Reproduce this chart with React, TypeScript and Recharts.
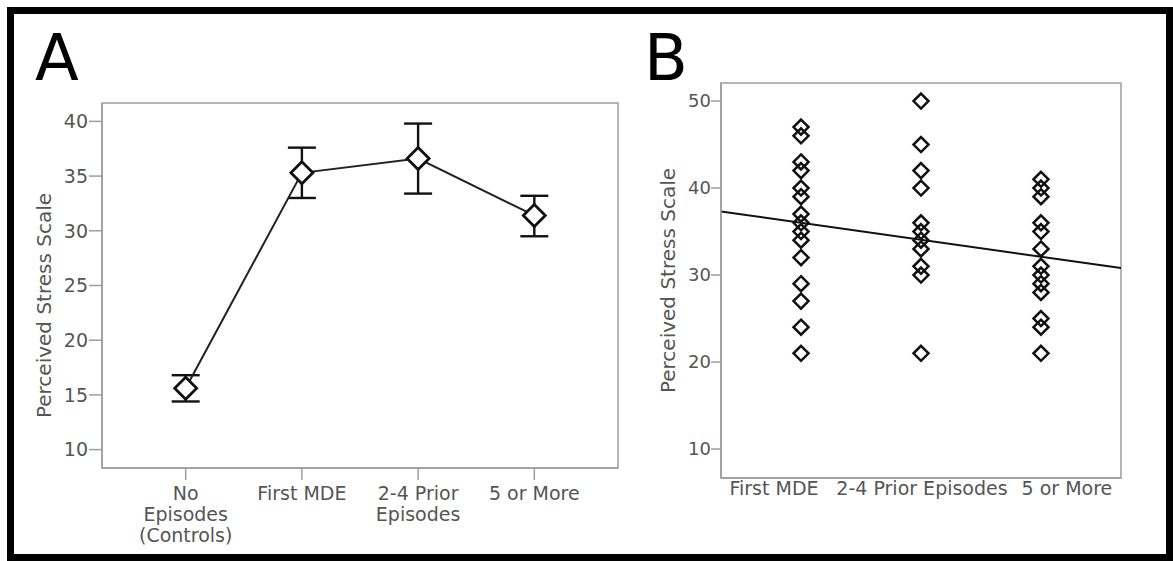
import React from 'react';
import {
  ComposedChart,
  Line,
  Scatter,
  ErrorBar,
  XAxis,
  YAxis,
  ReferenceArea,
} from 'recharts';

// Panel A: group means with error bars
const groupLabelsA = [
  ['No', 'Episodes', '(Controls)'],
  ['First MDE'],
  ['2-4 Prior', 'Episodes'],
  ['5 or More'],
];
const meansA = [15.6, 35.3, 36.6, 31.4];
const lowerA = [14.4, 33.0, 33.4, 29.5];
const upperA = [16.8, 37.6, 39.8, 33.2];
const yTicksA = [10, 15, 20, 25, 30, 35, 40];

// Panel B: individual scores per group + fit line
const groupLabelsB = ['First MDE', '2-4 Prior Episodes', '5 or More'];
const firstMde = [47, 46, 43, 42, 40, 39, 37, 36, 35, 34, 32, 29, 27, 24, 21];
const prior24 = [50, 45, 42, 40, 36, 35, 34, 33, 31, 30, 21];
const fiveOrMore = [41, 40, 39, 36, 35, 33, 31, 30, 29, 28, 25, 24, 21];
const fitX = [0.333, 3.667];
const fitY = [37.3, 30.8];
const yTicksB = [10, 20, 30, 40, 50];

const FONT = 'DejaVu Sans';
const GREY_TEXT = '#555';
const GREY_LINE = '#9d9d9d';

const dataA = meansA.map((m, i) => ({
  x: i + 1,
  mean: m,
  err: [m - lowerA[i], upperA[i] - m],
}));

const dataB = [firstMde, prior24, fiveOrMore].flatMap((vals, g) =>
  vals.map((v) => ({ x: g + 1, y: v }))
);
const fitData = fitX.map((x, i) => ({ x, y: fitY[i] }));

const X_DOMAIN_A: [number, number] = [0.28, 4.72];
const Y_DOMAIN_A: [number, number] = [8.32, 41.68];
const X_DOMAIN_B: [number, number] = [0.333, 3.667];
const Y_DOMAIN_B: [number, number] = [6.67, 52.07];

// labels in B are spread wider than the points (SPSS layout)
const labelShiftB = [-27, 1, 26];

const axisTitle = (dx: number, dy: number, size: number) => (props: any) => {
  const vb = props.viewBox || {};
  const cx = vb.x + dx;
  const cy = vb.y + vb.height / 2 + dy;
  return (
    <text
      x={cx}
      y={cy}
      transform={`rotate(-90 ${cx} ${cy})`}
      textAnchor="middle"
      dominantBaseline="central"
      fill={GREY_TEXT}
      fontSize={size}
      fontFamily={FONT}
    >
      Perceived Stress Scale
    </text>
  );
};

const BigDiamond = (props: any) => {
  const { cx, cy } = props;
  const r = 11;
  return (
    <path
      d={`M${cx},${cy - r} L${cx + r},${cy} L${cx},${cy + r} L${cx - r},${cy} Z`}
      fill="#fff"
      stroke="#111"
      strokeWidth={2.8}
    />
  );
};

const SmallDiamond = (props: any) => {
  const { cx, cy } = props;
  const r = 7.5;
  return (
    <path
      d={`M${cx},${cy - r} L${cx + r},${cy} L${cx},${cy + r} L${cx - r},${cy} Z`}
      fill="none"
      stroke="#111"
      strokeWidth={2.5}
    />
  );
};

const TickA = (props: any) => {
  const { x, y, payload } = props;
  const lines = groupLabelsA[payload.value - 1] || [];
  return (
    <text x={x} y={y} textAnchor="middle" fill={GREY_TEXT} fontSize={19} fontFamily={FONT}>
      {lines.map((l, i) => (
        <tspan key={i} x={x} dy={i === 0 ? 17.5 : 21}>
          {l}
        </tspan>
      ))}
    </text>
  );
};

const TickB = (props: any) => {
  const { x, y, payload } = props;
  const i = payload.value - 1;
  return (
    <text
      x={x + (labelShiftB[i] || 0)}
      y={y + 15}
      textAnchor="middle"
      fill={GREY_TEXT}
      fontSize={19}
      fontFamily={FONT}
    >
      {groupLabelsB[i]}
    </text>
  );
};

const PanelA = () => (
  <ComposedChart width={620} height={561} data={dataA} margin={{ top: 103, right: 2, bottom: 33, left: 42 }}>
    <ReferenceArea
      x1={X_DOMAIN_A[0]}
      x2={X_DOMAIN_A[1]}
      y1={Y_DOMAIN_A[0]}
      y2={Y_DOMAIN_A[1]}
      fill="none"
      stroke={GREY_LINE}
      strokeWidth={1.5}
      ifOverflow="visible"
    />
    <XAxis
      dataKey="x"
      type="number"
      domain={X_DOMAIN_A}
      ticks={[1, 2, 3, 4]}
      allowDataOverflow
      height={60}
      tickSize={12}
      tickMargin={2}
      tick={<TickA />}
      axisLine={{ stroke: GREY_LINE, strokeWidth: 1.5 }}
      tickLine={{ stroke: GREY_LINE, strokeWidth: 1.5 }}
    />
    <YAxis
      type="number"
      domain={Y_DOMAIN_A}
      ticks={yTicksA}
      allowDataOverflow
      width={60}
      tickSize={13}
      tickMargin={1}
      tick={{ fill: GREY_TEXT, fontSize: 19, fontFamily: FONT }}
      axisLine={{ stroke: GREY_LINE, strokeWidth: 1.5 }}
      tickLine={{ stroke: GREY_LINE, strokeWidth: 1.5 }}
      label={axisTitle(2, 20, 20)}
    />
    <Scatter dataKey="mean" shape={<BigDiamond />} isAnimationActive={false}>
      <ErrorBar dataKey="err" direction="y" width={14} stroke="#111" strokeWidth={2.4} />
    </Scatter>
    <Line
      dataKey="mean"
      type="linear"
      stroke="#222"
      strokeWidth={2}
      dot={false}
      activeDot={false}
      isAnimationActive={false}
    />
  </ComposedChart>
);

const PanelB = () => (
  <ComposedChart width={553} height={561} margin={{ top: 83, right: 52, bottom: 43, left: 41 }}>
    <ReferenceArea
      x1={X_DOMAIN_B[0]}
      x2={X_DOMAIN_B[1]}
      y1={Y_DOMAIN_B[0]}
      y2={Y_DOMAIN_B[1]}
      fill="none"
      stroke={GREY_LINE}
      strokeWidth={1.5}
      ifOverflow="visible"
    />
    <XAxis
      dataKey="x"
      type="number"
      domain={X_DOMAIN_B}
      ticks={[1, 2, 3]}
      allowDataOverflow
      height={40}
      tickSize={0}
      tickMargin={2}
      tick={<TickB />}
      axisLine={{ stroke: GREY_LINE, strokeWidth: 1.5 }}
      tickLine={false}
    />
    <YAxis
      dataKey="y"
      type="number"
      domain={Y_DOMAIN_B}
      ticks={yTicksB}
      allowDataOverflow
      width={60}
      tickSize={10}
      tickMargin={0}
      tick={{ fill: GREY_TEXT, fontSize: 18, fontFamily: FONT }}
      axisLine={{ stroke: GREY_LINE, strokeWidth: 1.5 }}
      tickLine={{ stroke: GREY_LINE, strokeWidth: 1.5 }}
      label={axisTitle(7, 0, 20)}
    />
    <Scatter data={dataB} dataKey="y" shape={<SmallDiamond />} isAnimationActive={false} />
    <Line
      data={fitData}
      dataKey="y"
      type="linear"
      stroke="#111"
      strokeWidth={2}
      dot={false}
      activeDot={false}
      isAnimationActive={false}
    />
  </ComposedChart>
);

const letterStyle: React.CSSProperties = {
  position: 'absolute',
  top: 26,
  fontFamily: FONT,
  fontSize: 64,
  lineHeight: 1,
  color: '#000',
};

export default function App() {
  return (
    <div
      style={{
        position: 'absolute',
        left: 0,
        top: 0,
        width: 1173,
        height: 561,
        background: '#fff',
        overflow: 'hidden',
        fontFamily: FONT,
      }}
    >
      <div
        style={{
          position: 'absolute',
          left: 7,
          top: 7,
          width: 1166,
          height: 554,
          border: '7px solid #000',
          boxSizing: 'border-box',
        }}
      />
      <div style={{ ...letterStyle, left: 35 }}>A</div>
      <div style={{ ...letterStyle, left: 644 }}>B</div>
      <div style={{ position: 'absolute', left: 0, top: 0 }}>
        <PanelA />
      </div>
      <div style={{ position: 'absolute', left: 620, top: 0 }}>
        <PanelB />
      </div>
    </div>
  );
}
